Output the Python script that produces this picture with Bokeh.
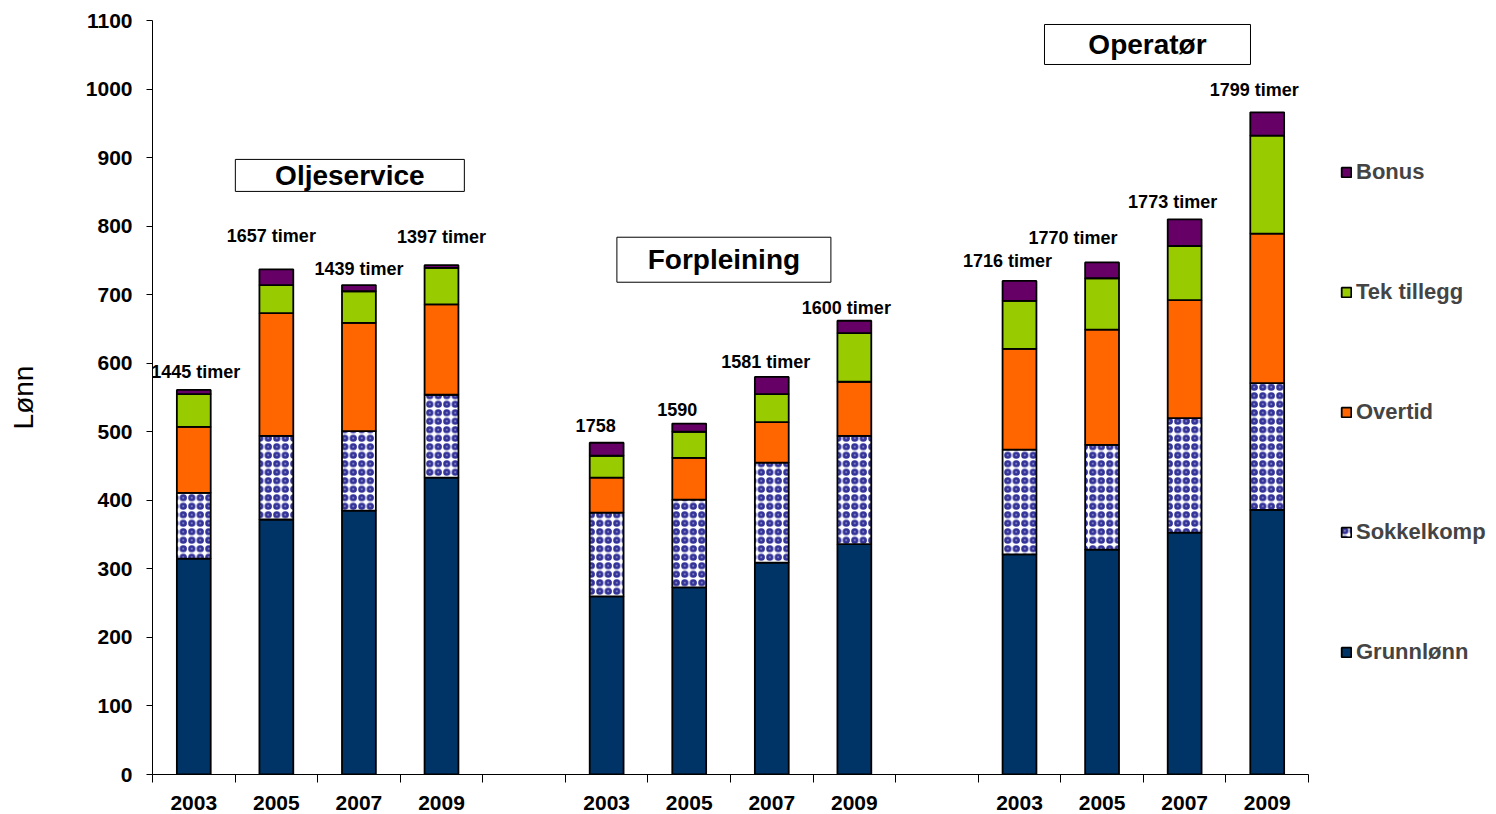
from bokeh.plotting import figure
from bokeh.models import ColumnDataSource, Range1d, FixedTicker, Legend, LegendItem
from bokeh.core.properties import value
from bokeh.embed import file_html
from bokeh.resources import INLINE

# ---------------- data ----------------
groups = ["Oljeservice", "Forpleining", "Operatør"]
years = ["2003", "2005", "2007", "2009"]
series = ["Grunnlønn", "Sokkelkomp", "Overtid", "Tek tillegg", "Bonus"]

grunnlonn   = [315, 372, 385, 433, 260, 273, 309, 336, 321, 328, 353, 386]
sokkelkomp  = [96, 122, 116, 121, 122, 128, 146, 158, 153, 153, 167, 185]
overtid     = [96, 179, 158, 132, 51, 61, 59, 79, 147, 168, 172, 218]
tek_tillegg = [48, 41, 46, 53, 32, 38, 41, 71, 70, 75, 79, 143]
bonus       = [6, 23, 9, 4, 19, 12, 25, 18, 29, 23, 39, 34]

timer_labels = ["1445 timer", "1657 timer", "1439 timer", "1397 timer",
                "1758", "1590", "1581 timer", "1600 timer",
                "1716 timer", "1770 timer", "1773 timer", "1799 timer"]

# ---------------- styling / layout ----------------
FONT = "Liberation Sans"
colors = ["#003366", "#FFFFFF", "#FF6600", "#99CC00", "#660066"]
label_dx = [2, -5, 0, 0, -11, -12, -6, -8, -12, -29, -12, -13]
label_dy = [-18, -33, -16, -28, -17, -14, -15, -13, -20, -24, -17, -22]

W, H = 1494, 812
LEFT, RIGHT, TOP, BOTTOM = 152, 4, 20, 38
AXIS_PX = 1156          # pixel length of the category axis

slots_per_group = len(years) + 1
xs = [g * slots_per_group + i + 0.5 for g in range(len(groups)) for i in range(len(years))]
n_slots = len(groups) * slots_per_group - 1
frame_w = W - LEFT - RIGHT
x_end = n_slots * frame_w / AXIS_PX

values = [grunnlonn, sokkelkomp, overtid, tek_tillegg, bonus]
bottoms = [0.0] * len(xs)

p = figure(width=W, height=H, output_backend="svg", toolbar_location=None,
           x_range=Range1d(0, x_end), y_range=Range1d(0, 1100),
           min_border_left=LEFT, min_border_right=RIGHT, min_border_top=TOP,
           min_border_bottom=BOTTOM)
p.outline_line_color = None
p.xgrid.grid_line_color = None
p.ygrid.grid_line_color = None
p.background_fill_color = "white"
p.border_fill_color = "white"

renderers = []
for k, vals in enumerate(values):
    tops = [b + v for b, v in zip(bottoms, vals)]
    src = ColumnDataSource(dict(x=xs, bottom=bottoms, top=tops))
    kw = {}
    if series[k] == "Sokkelkomp":
        kw = dict(hatch_pattern="ring", hatch_color="#333399", hatch_scale=8.5, hatch_weight=3)
    r = p.vbar(x="x", bottom="bottom", top="top", width=0.41, source=src,
               fill_color=colors[k], line_color="black", line_width=1.8, **kw)
    renderers.append(r)
    bottoms = tops

# hour labels above bars
lsrc = ColumnDataSource(dict(x=xs, y=bottoms, text=timer_labels, dx=label_dx, dy=label_dy))
p.text(x="x", y="y", text="text", x_offset="dx", y_offset="dy", source=lsrc,
       text_align="center", text_baseline="middle", text_font=value(FONT),
       text_font_style="bold", text_font_size="18px", text_color="black")

# group titles in boxes
title_x = [2.39, 6.92, 12.05]
title_y = [874, 751, 1065]
title_w = [229, 214, 206]
title_h = [32, 45, 40]
tsrc = ColumnDataSource(dict(x=title_x, y=title_y, w=title_w, h=title_h, text=groups))
p.rect(x="x", y="y", width="w", height="h", width_units="screen", height_units="screen",
       source=tsrc, fill_color="white", line_color="black", line_width=1)
p.text(x="x", y="y", text="text", source=tsrc, text_align="center", text_baseline="middle",
       text_font=value(FONT), text_font_style="bold", text_font_size="28px", text_color="black")

# x axis
xa = p.xaxis[0]
xa.bounds = (0, n_slots)
xa.ticker = FixedTicker(ticks=xs, minor_ticks=list(range(n_slots + 1)))
xa.major_label_overrides = {x: years[i % len(years)] for i, x in enumerate(xs)}
xa.major_tick_line_color = None
xa.major_tick_out = 0
xa.major_tick_in = 0
xa.minor_tick_out = 8
xa.minor_tick_in = 0
xa.minor_tick_line_color = "black"
xa.major_label_standoff = 13
xa.major_label_text_font = FONT
xa.major_label_text_font_style = "bold"
xa.major_label_text_font_size = "21px"
xa.major_label_text_color = "black"
xa.axis_line_color = "black"

# y axis
ya = p.yaxis[0]
ya.ticker = FixedTicker(ticks=list(range(0, 1101, 100)))
ya.major_tick_out = 6
ya.major_tick_in = 0
ya.minor_tick_line_color = None
ya.major_label_standoff = 14
ya.major_label_text_font = FONT
ya.major_label_text_font_style = "bold"
ya.major_label_text_font_size = "21px"
ya.major_label_text_color = "black"
ya.axis_line_color = "black"
ya.axis_label = "Lønn"
ya.axis_label_text_font = FONT
ya.axis_label_text_font_style = "normal"
ya.axis_label_text_font_size = "28px"
ya.axis_label_text_color = "black"
ya.axis_label_standoff = 44

# legend (top-to-bottom: reverse stack order), right of the bars
items = [LegendItem(label=series[k], renderers=[renderers[k]]) for k in reversed(range(len(series)))]
legend = Legend(items=items, location=(1188, 108), spacing=92, glyph_width=12, glyph_height=12,
                label_height=28, label_text_font=FONT, label_text_font_style="bold",
                label_text_font_size="22px", label_standoff=4, border_line_color=None,
                background_fill_alpha=0, margin=0, padding=0)
p.add_layout(legend)

open("out.html", "w").write(file_html(p, INLINE))
